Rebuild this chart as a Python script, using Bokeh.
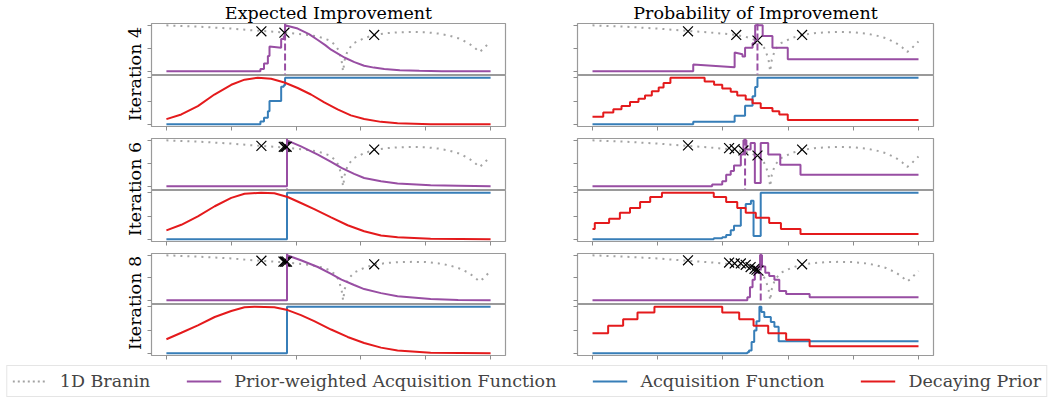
import math
from bokeh.plotting import figure
from bokeh.models import Range1d, FixedTicker, Span, Label, Legend, LegendItem
from bokeh.layouts import row, column
from bokeh.embed import file_html
from bokeh.resources import INLINE

FONT = "DejaVu Serif"
PURPLE = "#984ea3"
BLUE = "#377eb8"
RED = "#e41a1c"
GRAY = "#a3a3a3"
FRAME = "#9a9a9a"

col_titles = ["Expected Improvement", "Probability of Improvement"]
row_labels = ["Iteration 4", "Iteration 6", "Iteration 8"]
x_ticks = [0, 0.2, 0.4, 0.6, 0.8, 1.0]
y_ticks = [0, 0.5, 1.0]
legend_labels = ["1D Branin", "Prior-weighted Acquisition Function", "Acquisition Function", "Decaying Prior"]

# ---- 1D Branin (normalised) ----
branin_x = [0.0, 0.05, 0.10, 0.15, 0.20, 0.25, 0.30, 0.35, 0.40, 0.44, 0.47, 0.50, 0.52, 0.53, 0.54,
            0.545, 0.55, 0.56, 0.58, 0.61, 0.64, 0.68, 0.72, 0.76, 0.80, 0.84, 0.87, 0.90, 0.93,
            0.95, 0.965, 0.975, 0.99, 1.0]
branin_y = [1.0, 0.985, 0.97, 0.95, 0.93, 0.90, 0.875, 0.85, 0.82, 0.79, 0.75, 0.68, 0.58, 0.47, 0.25,
            0.0, 0.25, 0.47, 0.62, 0.72, 0.79, 0.83, 0.85, 0.855, 0.85, 0.82, 0.78, 0.72, 0.62,
            0.52, 0.42, 0.47, 0.58, 0.65]

# ---- Expected Improvement ----
ei4_obs_x = [0.293, 0.364, 0.641]
ei4_obs_y = [0.87, 0.84, 0.79]
ei6_obs_x = [0.293, 0.362, 0.367, 0.371, 0.641]
ei6_obs_y = [0.88, 0.86, 0.86, 0.86, 0.80]
ei8_obs_x = [0.293, 0.361, 0.365, 0.368, 0.372, 0.641]
ei8_obs_y = [0.88, 0.86, 0.86, 0.86, 0.86, 0.80]

ei4_pw_x = [0, 0.290, 0.290, 0.301, 0.301, 0.313, 0.313, 0.318, 0.318, 0.354, 0.354, 0.362, 0.362, 0.366, 0.366,
            0.405, 0.44, 0.467, 0.49, 0.508, 0.53, 0.549, 0.58, 0.61, 0.64, 0.672, 0.72, 0.78, 0.85, 1.0]
ei4_pw_y = [0, 0, 0.05, 0.05, 0.17, 0.17, 0.33, 0.33, 0.54, 0.51, 0.70, 0.70, 0.76, 0.76, 1.0,
            0.93, 0.81, 0.68, 0.57, 0.47, 0.38, 0.30, 0.20, 0.12, 0.08, 0.05, 0.025, 0.01, 0.0, 0.0]
ei6_pw_x = [0, 0.372, 0.372, 0.415, 0.467, 0.508, 0.54, 0.579, 0.61, 0.662, 0.713, 0.815, 0.90, 1.0]
ei6_pw_y = [0, 0, 1.0, 0.87, 0.69, 0.53, 0.40, 0.27, 0.18, 0.11, 0.06, 0.02, 0.01, 0.0]
ei8_pw_x = [0, 0.372, 0.372, 0.415, 0.467, 0.508, 0.54, 0.579, 0.61, 0.662, 0.713, 0.815, 0.90, 1.0]
ei8_pw_y = [0, 0, 1.0, 0.89, 0.74, 0.59, 0.46, 0.34, 0.25, 0.16, 0.09, 0.03, 0.01, 0.0]

ei4_acq_x = [0, 0.290, 0.301, 0.313, 0.318, 0.354, 0.362, 0.366, 1.0]
ei4_acq_y = [0, 0.06, 0.14, 0.28, 0.50, 0.81, 0.84, 1.0, 1.0]
ei6_acq_x = [0, 0.372, 1.0]
ei6_acq_y = [0, 1.0, 1.0]
ei8_acq_x = [0, 0.372, 1.0]
ei8_acq_y = [0, 1.0, 1.0]

ei4_prior_x = [0, 0.046, 0.097, 0.148, 0.2, 0.241, 0.282, 0.323, 0.364, 0.405, 0.446, 0.487, 0.528,
               0.569, 0.61, 0.662, 0.713, 0.815, 1.0]
ei4_prior_y = [0.11, 0.21, 0.39, 0.64, 0.85, 0.96, 1.0, 0.98, 0.90, 0.78, 0.64, 0.47, 0.32,
               0.19, 0.11, 0.05, 0.02, 0.0, 0.0]
ei6_prior_x = [0, 0.046, 0.097, 0.149, 0.2, 0.241, 0.292, 0.333, 0.374, 0.415, 0.456, 0.508, 0.559,
               0.61, 0.662, 0.713, 0.815, 1.0]
ei6_prior_y = [0.19, 0.31, 0.49, 0.71, 0.89, 0.98, 1.0, 0.99, 0.91, 0.78, 0.65, 0.47, 0.30,
               0.17, 0.08, 0.04, 0.01, 0.0]
ei8_prior_x = [0, 0.046, 0.097, 0.149, 0.2, 0.241, 0.272, 0.333, 0.374, 0.415, 0.456, 0.508, 0.559,
               0.61, 0.662, 0.713, 0.815, 1.0]
ei8_prior_y = [0.30, 0.44, 0.60, 0.78, 0.91, 0.99, 1.0, 0.99, 0.93, 0.82, 0.69, 0.51, 0.35,
               0.22, 0.12, 0.06, 0.01, 0.0]
ei_peak = [0.366, 0.372, 0.372]

# ---- Probability of Improvement ----
pi4_obs_x = [0.293, 0.441, 0.506, 0.643]
pi4_obs_y = [0.87, 0.79, 0.67, 0.79]
pi6_obs_x = [0.293, 0.419, 0.436, 0.463, 0.506, 0.643]
pi6_obs_y = [0.89, 0.83, 0.81, 0.78, 0.67, 0.80]
pi8_obs_x = [0.293, 0.419, 0.436, 0.455, 0.470, 0.485, 0.497, 0.503, 0.509, 0.643]
pi8_obs_y = [0.89, 0.84, 0.82, 0.82, 0.79, 0.74, 0.70, 0.68, 0.66, 0.80]

pi4_pw_x = [0, 0.309, 0.309, 0.436, 0.436, 0.46, 0.46, 0.468, 0.468, 0.491, 0.491, 0.499, 0.499, 0.522,
            0.522, 0.552, 0.552, 0.599, 0.599, 1.0]
pi4_pw_y = [0, 0, 0.15, 0.09, 0.41, 0.37, 0.32, 0.32, 0.51, 0.51, 0.61, 0.61, 1.0, 1.0,
            0.77, 0.77, 0.51, 0.51, 0.26, 0.26]
pi6_pw_x = [0, 0.367, 0.398, 0.41, 0.424, 0.434, 0.455, 0.463, 0.472, 0.485, 0.498, 0.516, 0.539, 0.576, 0.638, 1.0]
pi6_pw_y = [0, 0.04, 0.11, 0.25, 0.33, 0.45, 0.69, 1.0, 0.80, 0.94, 0.07, 0.94, 0.69, 0.47, 0.25, 0.25]
pi8_pw_x = [0, 0.475, 0.483, 0.491, 0.498, 0.506, 0.514, 0.52, 0.53, 0.542, 0.558, 0.573, 0.594, 0.666, 1.0]
pi8_pw_y = [0, 0.07, 0.29, 0.46, 0.61, 0.75, 1.0, 0.75, 0.61, 0.54, 0.46, 0.21, 0.14, 0.07, 0.07]

pi4_acq_x = [0, 0.309, 0.436, 0.468, 0.491, 0.499, 0.506, 1.0]
pi4_acq_y = [0, 0.05, 0.18, 0.40, 0.60, 0.80, 1.0, 1.0]
pi6_acq_x = [0, 0.372, 0.398, 0.41, 0.424, 0.434, 0.455, 0.47, 0.486, 0.494, 0.516, 1.0]
pi6_acq_y = [0, 0.02, 0.04, 0.09, 0.19, 0.29, 0.67, 0.76, 0.83, 0.07, 1.0, 1.0]
pi8_acq_x = [0, 0.475, 0.48, 0.488, 0.496, 0.503, 0.512, 0.518, 0.527, 0.547, 0.558, 0.571, 1.0]
pi8_acq_y = [0, 0.02, 0.06, 0.24, 0.49, 0.69, 1.0, 0.89, 0.78, 0.67, 0.57, 0.26, 0.26]

pi4_prior_x = [0, 0.033, 0.064, 0.089, 0.115, 0.141, 0.161, 0.182, 0.203, 0.218, 0.239, 0.344, 0.373,
               0.398, 0.424, 0.444, 0.47, 0.491, 0.516, 0.552, 0.573, 0.599, 1.0]
pi4_prior_y = [0.16, 0.25, 0.32, 0.39, 0.48, 0.55, 0.62, 0.71, 0.79, 0.89, 1.0, 0.92, 0.85,
               0.77, 0.70, 0.62, 0.53, 0.45, 0.35, 0.28, 0.21, 0.09, 0.09]
pi6_prior_x = [0, 0.007, 0.051, 0.084, 0.115, 0.146, 0.177, 0.213, 0.372, 0.41, 0.444, 0.47, 0.501,
               0.542, 0.578, 0.638, 1.0]
pi6_prior_y = [0.22, 0.35, 0.44, 0.57, 0.67, 0.80, 0.91, 1.0, 0.91, 0.80, 0.67, 0.57, 0.46,
               0.35, 0.22, 0.11, 0.11]
pi8_prior_x = [0, 0.048, 0.094, 0.138, 0.19, 0.398, 0.45, 0.494, 0.539, 0.594, 0.666, 1.0]
pi8_prior_y = [0.43, 0.59, 0.73, 0.88, 1.0, 0.88, 0.73, 0.59, 0.43, 0.29, 0.15, 0.15]
pi_peak = [0.506, 0.468, 0.516]

EI = [
    dict(obs=(ei4_obs_x, ei4_obs_y), pw=(ei4_pw_x, ei4_pw_y), pw_step=False,
         acq=(ei4_acq_x, ei4_acq_y), prior=(ei4_prior_x, ei4_prior_y), prior_step=False, peak=ei_peak[0]),
    dict(obs=(ei6_obs_x, ei6_obs_y), pw=(ei6_pw_x, ei6_pw_y), pw_step=False,
         acq=(ei6_acq_x, ei6_acq_y), prior=(ei6_prior_x, ei6_prior_y), prior_step=False, peak=ei_peak[1]),
    dict(obs=(ei8_obs_x, ei8_obs_y), pw=(ei8_pw_x, ei8_pw_y), pw_step=False,
         acq=(ei8_acq_x, ei8_acq_y), prior=(ei8_prior_x, ei8_prior_y), prior_step=False, peak=ei_peak[2]),
]
PI = [
    dict(obs=(pi4_obs_x, pi4_obs_y), pw=(pi4_pw_x, pi4_pw_y), pw_step=False,
         acq=(pi4_acq_x, pi4_acq_y), prior=(pi4_prior_x, pi4_prior_y), prior_step=True, peak=pi_peak[0]),
    dict(obs=(pi6_obs_x, pi6_obs_y), pw=(pi6_pw_x, pi6_pw_y), pw_step=True,
         acq=(pi6_acq_x, pi6_acq_y), prior=(pi6_prior_x, pi6_prior_y), prior_step=True, peak=pi_peak[1]),
    dict(obs=(pi8_obs_x, pi8_obs_y), pw=(pi8_pw_x, pi8_pw_y), pw_step=True,
         acq=(pi8_acq_x, pi8_acq_y), prior=(pi8_prior_x, pi8_prior_y), prior_step=True, peak=pi_peak[2]),
]

# layout geometry (pixels)
TOP_BORDERS = [22, 1, 1]
TOP_FRAMES = [51, 51, 50]
BOT_FRAMES = [51, 51, 51]
BOT_BORDERS = [11, 11, 8]
XR = (-0.046, 1.046)


def style_axes(p, show_x):
    p.grid.visible = False
    p.outline_line_color = FRAME
    p.outline_line_width = 1.2
    p.yaxis.ticker = FixedTicker(ticks=y_ticks)
    for ax in p.yaxis + p.xaxis:
        ax.axis_line_color = None
        ax.major_tick_out = 4
        ax.major_tick_in = 0
        ax.minor_tick_line_color = None
        ax.major_tick_line_color = "#8c8c8c"
        ax.major_label_text_font_size = "0px"
        ax.major_label_text_color = None
        ax.major_label_standoff = 0
    if show_x:
        p.xaxis.ticker = FixedTicker(ticks=x_ticks)
    else:
        p.xaxis.visible = False


def panel_pair(data, i, ci, right_border):
    fw = 354 if ci == 0 else 356
    top = figure(frame_width=fw, frame_height=TOP_FRAMES[i], x_range=Range1d(*XR), y_range=Range1d(-0.07, 1.04),
                 output_backend="svg", toolbar_location=None,
                 min_border_left=6, min_border_right=right_border,
                 min_border_top=TOP_BORDERS[i], min_border_bottom=1)
    if i == 0:
        top.title.text = col_titles[ci]
        top.title.align = "center"
        top.title.text_font = FONT
        top.title.text_font_style = "normal"
        top.title.text_font_size = "17.5px"
        top.title.text_color = "black"
        top.title.standoff = 1
        top.title.offset = 0
    style_axes(top, False)
    top.line(branin_x, branin_y, line_color=GRAY, line_width=2, line_dash="2 5")
    px, py = data["pw"]
    if data["pw_step"]:
        top.step(px, py, mode="after", line_color=PURPLE, line_width=2)
    else:
        top.line(px, py, line_color=PURPLE, line_width=2)
    top.add_layout(Span(location=data["peak"], dimension="height", line_color=PURPLE,
                        line_width=2, line_dash="7 3"))
    ox, oy = data["obs"]
    top.scatter(ox, oy, marker="x", size=14, line_color="black", line_width=1.2)

    bot = figure(frame_width=fw, frame_height=BOT_FRAMES[i], x_range=Range1d(*XR), y_range=Range1d(-0.05, 1.05),
                 output_backend="svg", toolbar_location=None,
                 min_border_left=6, min_border_right=right_border,
                 min_border_top=0, min_border_bottom=BOT_BORDERS[i])
    style_axes(bot, True)
    ax_, ay_ = data["acq"]
    bot.step(ax_, ay_, mode="after", line_color=BLUE, line_width=2)
    rx, ry = data["prior"]
    if data["prior_step"]:
        bot.step(rx, ry, mode="after", line_color=RED, line_width=2)
    else:
        bot.line(rx, ry, line_color=RED, line_width=2)
    return [top, bot]


left_figs = []
right_figs = []
for i in range(3):
    left_figs += panel_pair(EI[i], i, 0, 66)
    right_figs += panel_pair(PI[i], i, 1, 10)

total_h = sum(TOP_BORDERS) + sum(TOP_FRAMES) + 3 + sum(BOT_FRAMES) + sum(BOT_BORDERS)
lab = figure(width=145, height=total_h, x_range=Range1d(0, 145), y_range=Range1d(0, total_h),
             output_backend="svg", toolbar_location=None, min_border=0)
lab.axis.visible = False
lab.grid.visible = False
lab.outline_line_color = None
yy = 0
for i in range(3):
    yy += TOP_BORDERS[i] + TOP_FRAMES[i]
    divider = yy + 0.5
    yy += 1 + BOT_FRAMES[i] + BOT_BORDERS[i]
    lab.add_layout(Label(x=134, y=total_h - divider, text=row_labels[i], angle=math.pi / 2,
                         text_align="center", text_baseline="middle", text_font=FONT,
                         text_font_size="17.5px", text_color="black"))

# legend strip (sample renderers sit outside the visible range; only their legend glyphs show)
leg = figure(width=1053, height=36, x_range=Range1d(0, 1), y_range=Range1d(0, 1),
             output_backend="svg", toolbar_location=None, min_border=0)
leg.axis.visible = False
leg.grid.visible = False
leg.outline_line_color = None
hidden_x = [-5, -4]
hidden_y = [-5, -4]
r1 = leg.line(hidden_x, hidden_y, line_color=GRAY, line_width=2, line_dash="2 3")
r2 = leg.line(hidden_x, hidden_y, line_color=PURPLE, line_width=2)
r3 = leg.line(hidden_x, hidden_y, line_color=BLUE, line_width=2)
r4 = leg.line(hidden_x, hidden_y, line_color=RED, line_width=2)
legend = Legend(items=[LegendItem(label=legend_labels[k], renderers=[r]) for k, r in enumerate([r1, r2, r3, r4])],
                orientation="horizontal", location="center", glyph_width=35, glyph_height=20,
                label_standoff=13, spacing=36, padding=5, margin=0,
                label_text_font=FONT, label_text_font_size="17.5px", label_height=20,
                border_line_color="#cccccc", border_line_width=1, background_fill_color="white")
leg.add_layout(legend, "center")

layout = column(row(lab, column(*left_figs), column(*right_figs)), leg)
open("out.html", "w").write(file_html(layout, INLINE))
